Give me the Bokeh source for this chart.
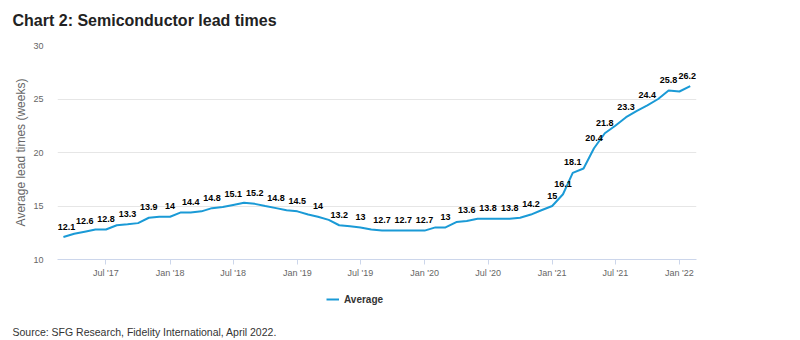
import pandas as pd
from bokeh.plotting import figure
from bokeh.layouts import column
from bokeh.models import (Range1d, FixedTicker, DatetimeTickFormatter, Label,
                          Legend, LegendItem, ColumnDataSource)
from bokeh.core.properties import value
from bokeh.embed import file_html
from bokeh.resources import INLINE

# ---------------- data ----------------
months = [
    "2017-03", "2017-04", "2017-05", "2017-06", "2017-07", "2017-08", "2017-09", "2017-10", "2017-11", "2017-12",
    "2018-01", "2018-02", "2018-03", "2018-04", "2018-05", "2018-06", "2018-07", "2018-08", "2018-09", "2018-10", "2018-11", "2018-12",
    "2019-01", "2019-02", "2019-03", "2019-04", "2019-05", "2019-06", "2019-07", "2019-08", "2019-09", "2019-10", "2019-11", "2019-12",
    "2020-01", "2020-02", "2020-03", "2020-04", "2020-05", "2020-06", "2020-07", "2020-08", "2020-09", "2020-10", "2020-11", "2020-12",
    "2021-01", "2021-02", "2021-03", "2021-04", "2021-05", "2021-06", "2021-07", "2021-08", "2021-09", "2021-10", "2021-11", "2021-12",
    "2022-01", "2022-02",
]
lead_times = [
    12.1, 12.4, 12.6, 12.8, 12.8, 13.2, 13.3, 13.4, 13.9, 14.0,
    14.0, 14.4, 14.4, 14.5, 14.8, 14.9, 15.1, 15.3, 15.2, 15.0, 14.8, 14.6,
    14.5, 14.2, 14.0, 13.7, 13.2, 13.1, 13.0, 12.8, 12.7, 12.7, 12.7, 12.7,
    12.7, 13.0, 13.0, 13.5, 13.6, 13.8, 13.8, 13.8, 13.8, 13.9, 14.2, 14.6,
    15.0, 16.1, 18.1, 18.5, 20.4, 21.8, 22.5, 23.3, 23.9, 24.4, 25.0, 25.8,
    25.7, 26.2,
]
labelled_months = [
    "2017-03", "2017-05", "2017-07", "2017-09", "2017-11",
    "2018-01", "2018-03", "2018-05", "2018-07", "2018-09", "2018-11",
    "2019-01", "2019-03", "2019-05", "2019-07", "2019-09", "2019-11",
    "2020-01", "2020-03", "2020-05", "2020-07", "2020-09", "2020-11",
    "2021-01", "2021-02", "2021-03", "2021-05", "2021-06", "2021-08", "2021-10", "2021-12",
    "2022-02",
]
x_tick_months = ["2017-07", "2018-01", "2018-07", "2019-01", "2019-07", "2020-01",
                 "2020-07", "2021-01", "2021-07", "2022-01"]
y_ticks = [10, 15, 20, 25, 30]
series_name = "Average"
title_text = "Chart 2: Semiconductor lead times"
y_title = "Average lead times (weeks)"
source_text = "Source: SFG Research, Fidelity International, April 2022."

# ---------------- build ----------------
FONT = "Liberation Sans"
LINE_COLOR = "#1a9ad6"

dates = pd.to_datetime(months)
src = ColumnDataSource(dict(x=dates, y=lead_times))
lab_idx = [months.index(m) for m in labelled_months]
n_lab = len(lab_idx)
# keep edge labels inside the plot area (as the original's label justification does)
lab_shift = [3 if k == 0 else (-3 if k == n_lab - 1 else 0) for k in range(n_lab)]
lab_src = ColumnDataSource(dict(
    x=[dates[i] for i in lab_idx],
    y=[lead_times[i] for i in lab_idx],
    t=[("%g" % lead_times[i]) for i in lab_idx],
    dx=lab_shift,
))


def strip(height):
    """A bare figure whose frame is the whole canvas (for header / footer texts)."""
    s = figure(width=800, height=height, output_backend="svg", toolbar_location=None,
               x_axis_location=None, y_axis_location=None, title_location=None,
               x_range=Range1d(0, 1), y_range=Range1d(0, 1),
               min_border_left=0, min_border_right=0, min_border_top=0, min_border_bottom=0)
    s.outline_line_color = None
    s.xgrid.grid_line_color = None
    s.ygrid.grid_line_color = None
    s.background_fill_color = "white"
    s.border_fill_color = "white"
    return s


# ---------- header: title ----------
h = strip(35)
h.add_layout(Label(x=12, y=15, x_units="screen", y_units="screen", text=title_text,
                   text_font=FONT, text_font_size="16px", text_font_style="bold",
                   text_color="#222222", text_baseline="middle"))

# ---------- main chart ----------
p = figure(width=800, height=250, x_axis_type="datetime",
           output_backend="svg", toolbar_location=None, title_location=None,
           x_range=Range1d(pd.Timestamp("2017-02-12"), pd.Timestamp("2022-02-19")),
           y_range=Range1d(10, 30),
           min_border_left=57, min_border_right=104,
           min_border_top=10, min_border_bottom=26)
p.outline_line_color = None
p.background_fill_color = "white"
p.border_fill_color = "white"

# grid
p.xgrid.grid_line_color = None
p.ygrid.grid_line_color = "#e6e6e6"
p.ygrid.grid_line_width = 1

# y axis
p.yaxis.ticker = FixedTicker(ticks=y_ticks)
p.yaxis.axis_line_color = None
p.yaxis.major_tick_line_color = None
p.yaxis.minor_tick_line_color = None
p.yaxis.major_label_text_font = FONT
p.yaxis.major_label_text_font_size = "9px"
p.yaxis.major_label_text_color = "#666666"
p.yaxis.major_label_standoff = 8
p.yaxis.axis_label = y_title
p.yaxis.axis_label_text_font = FONT
p.yaxis.axis_label_text_font_size = "12px"
p.yaxis.axis_label_text_font_style = "normal"
p.yaxis.axis_label_text_color = "#666666"
p.yaxis.axis_label_standoff = 2

# x axis
tick_ms = [pd.Timestamp(m + "-01").value / 1e6 for m in x_tick_months]
p.xaxis.ticker = FixedTicker(ticks=tick_ms)
fmt = "%b '%y"
p.xaxis.formatter = DatetimeTickFormatter(days=fmt, months=fmt, years=fmt, hours=fmt,
                                          minutes=fmt, seconds=fmt, milliseconds=fmt,
                                          microseconds=fmt, hourmin=fmt, minsec=fmt)
p.xaxis.axis_line_color = "#ccd6eb"
p.xaxis.major_tick_line_color = "#ccd6eb"
p.xaxis.major_tick_out = 5
p.xaxis.major_tick_in = 0
p.xaxis.minor_tick_line_color = None
p.xaxis.major_label_text_font = FONT
p.xaxis.major_label_text_font_size = "9px"
p.xaxis.major_label_text_color = "#666666"
p.xaxis.major_label_standoff = 3

# series
p.line("x", "y", source=src, line_color=LINE_COLOR, line_width=2)

# data labels
p.text("x", "y", text="t", source=lab_src, text_align="center",
       text_baseline="middle", y_offset=-10.5, x_offset="dx",
       text_font=value(FONT), text_font_size="9px", text_font_style="bold",
       text_color="#000000")

# ---------- footer: legend + source ----------
f = strip(55)
# legend key: the same series, drawn out of this strip's view (only its key shows)
key = f.line("x", "y", source=src, line_color=LINE_COLOR, line_width=2)

legend = Legend(items=[LegendItem(label=series_name, renderers=[key])],
                location=(326, 35), orientation="horizontal",
                border_line_color=None, background_fill_alpha=0,
                padding=0, margin=0, spacing=0,
                glyph_width=13, glyph_height=12, label_standoff=5,
                label_height=12,
                label_text_font=FONT, label_text_font_size="10px",
                label_text_font_style="bold", label_text_color="#333333")
f.add_layout(legend, "center")

f.add_layout(Label(x=12, y=9, x_units="screen", y_units="screen", text=source_text,
                   text_font=FONT, text_font_size="10.5px",
                   text_color="#333333", text_baseline="middle"))

for fig in (h, p, f):
    if "frame_align" in fig.properties():
        fig.frame_align = False

layout = column(h, p, f, spacing=0)
open("out.html", "w").write(file_html(layout, INLINE))
